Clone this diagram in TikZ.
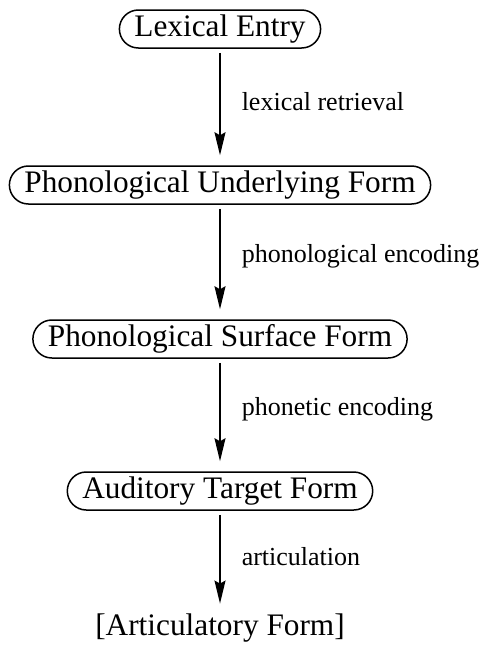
\documentclass[tikz,border=0pt]{standalone}
\usepackage{fontspec}
\setmainfont{Liberation Serif}
\usetikzlibrary{arrows.meta, positioning}

\begin{document}
\begin{tikzpicture}[
    x=1pt, y=-1pt,
    form/.style={rectangle, draw, line width=1.5pt, rounded corners=19pt,
                 minimum height=38pt, inner xsep=15pt, inner ysep=0pt,
                 font=\fontsize{31.3pt}{36pt}\selectfont},
    output/.style={inner sep=0pt, font=\fontsize{31.3pt}{36pt}\selectfont},
    arrow/.style={-{Stealth[length=23pt, width=11pt, inset=3pt]}, line width=1.5pt,
                  shorten <=4pt, shorten >=10pt},
    process/.style={right=21pt, inner sep=0pt, font=\fontsize{26pt}{30pt}\selectfont}
]
\useasboundingbox (0,0) rectangle (485,657);

% Representations
\node[form] at (220,29) (lexentry) {Lexical Entry};
\node[form] at (220,185) (underlying) {Phonological Underlying Form};
\node[form] at (220,339) (surface) {Phonological Surface Form};
\node[form] at (220,491) (auditory) {Auditory Target Form};
\node[output] at (220,628) (articulatory) {[Articulatory Form]};

% Processes
\draw[arrow] (lexentry.south) -- node[process, pos=0.45] {lexical retrieval} (underlying.north);
\draw[arrow] (underlying.south) -- node[process, pos=0.45] {phonological encoding} (surface.north);
\draw[arrow] (surface.south) -- node[process, pos=0.45] {phonetic encoding} (auditory.north);
\draw[arrow] (auditory.south) -- node[process, pos=0.45] {articulation} (articulatory.north);

\end{tikzpicture}
\end{document}
